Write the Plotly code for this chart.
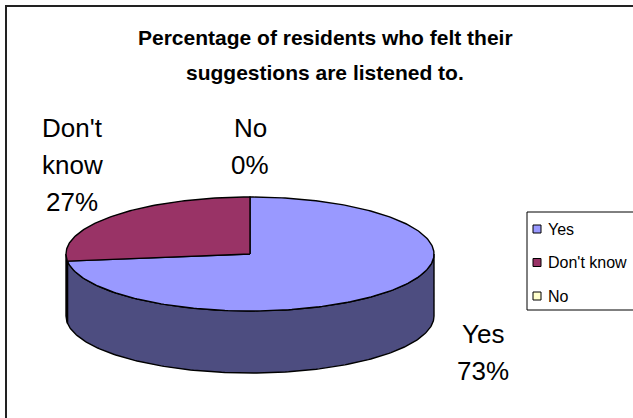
import numpy as np
import plotly.graph_objects as go

# Survey answers
labels = ["Yes", "Don't know", "No"]
values = [73, 27, 0]

# Slice colours: top face and darker side wall
top_colors = ["#9999FF", "#993366", "#FFFFCC"]
side_colors = ["#4D4D80", "#4D1A33", "#808066"]

title_lines = ["Percentage of residents who felt their", "suggestions are listened to."]

# Geometry of the tilted pie (pixel space)
CX, CY = 250.0, 254.0
RX, RY = 184.0, 57.0
DEPTH = 62.0

# Centre of the first line of each data label
label_pos = [(483, 334), (72, 128), (250, 128)]
LABEL_STEP = 37

W, H = 633, 418


def ellipse_pts(t0, t1, dy=0.0, n=None):
    """Points on the pie rim; angles in degrees, clockwise from 12 o'clock."""
    if n is None:
        n = max(2, int(abs(t1 - t0)) + 2)
    t = np.radians(np.linspace(t0, t1, n))
    return CX + RX * np.sin(t), CY - RY * np.cos(t) + dy


fig = go.Figure()

total = float(sum(values))
angles = np.concatenate([[0.0], np.cumsum(values) / total * 360.0])

# Side walls (only the front half, 90..270 degrees, faces the viewer)
for i, v in enumerate(values):
    if v <= 0:
        continue
    a0, a1 = max(angles[i], 90.0), min(angles[i + 1], 270.0)
    if a1 <= a0:
        continue
    xt, yt = ellipse_pts(a0, a1)
    xb, yb = ellipse_pts(a1, a0, dy=DEPTH)
    fig.add_trace(go.Scatter(
        x=np.concatenate([xt, xb, xt[:1]]),
        y=np.concatenate([yt, yb, yt[:1]]),
        mode="lines", fill="toself", fillcolor=side_colors[i],
        line=dict(color="black", width=1.4),
        hoverinfo="skip", showlegend=False,
    ))

# Top faces
for i, v in enumerate(values):
    if v <= 0:
        continue
    xa, ya = ellipse_pts(angles[i], angles[i + 1])
    fig.add_trace(go.Scatter(
        x=np.concatenate([[CX], xa, [CX]]),
        y=np.concatenate([[CY], ya, [CY]]),
        mode="lines", fill="toself", fillcolor=top_colors[i],
        line=dict(color="black", width=1.4),
        name=labels[i], hoverinfo="name", showlegend=False,
    ))

annotations = []
FONT = "Liberation Sans, Arial, sans-serif"

# Title
for k, line in enumerate(title_lines):
    annotations.append(dict(
        x=325, y=37 + 35 * k, xref="x", yref="y", text=f"<b>{line}</b>",
        showarrow=False, xanchor="center", yanchor="middle",
        font=dict(family=FONT, size=21, color="black"),
    ))

# Data labels: category words stacked above the percentage
for i, v in enumerate(values):
    pct = int(round(v / total * 100))
    lines = labels[i].split(" ") + [f"{pct}%"]
    lx, ly = label_pos[i]
    for k, line in enumerate(lines):
        annotations.append(dict(
            x=lx, y=ly + LABEL_STEP * k, xref="x", yref="y", text=line,
            showarrow=False, xanchor="center", yanchor="middle",
            font=dict(family=FONT, size=26, color="black"),
        ))

# Legend box with swatches
LEG_X, LEG_Y0, LEG_Y1 = 527, 212, 310
LEG_ROW0, LEG_STEP = 229, 33.5
shapes = [
    dict(type="rect", xref="x", yref="y", x0=6, y0=6, x1=W + 10, y1=H + 10,
         line=dict(color="#222222", width=2), fillcolor="rgba(0,0,0,0)", layer="below"),
    dict(type="rect", xref="x", yref="y", x0=LEG_X, y0=LEG_Y0, x1=W + 10, y1=LEG_Y1,
         line=dict(color="black", width=1), fillcolor="white", layer="below"),
]
leg_y = [LEG_ROW0 + LEG_STEP * i for i in range(len(labels))]
fig.add_trace(go.Scatter(
    x=[537] * len(labels), y=leg_y, mode="markers",
    marker=dict(symbol="square", size=8, color=top_colors,
                line=dict(color="black", width=1)),
    hoverinfo="skip", showlegend=False,
))
for i, lab in enumerate(labels):
    annotations.append(dict(
        x=546, y=leg_y[i], xref="x", yref="y", text=lab,
        showarrow=False, xanchor="left", yanchor="middle",
        font=dict(family=FONT, size=16, color="black"),
    ))

fig.update_layout(
    width=W, height=H,
    margin=dict(l=0, r=0, t=0, b=0),
    paper_bgcolor="white", plot_bgcolor="white",
    xaxis=dict(range=[0, W], visible=False, fixedrange=True),
    yaxis=dict(range=[H, 0], visible=False, fixedrange=True),
    annotations=annotations, shapes=shapes,
    showlegend=False,
)

fig.write_html("out.html", config={"displayModeBar": False})
